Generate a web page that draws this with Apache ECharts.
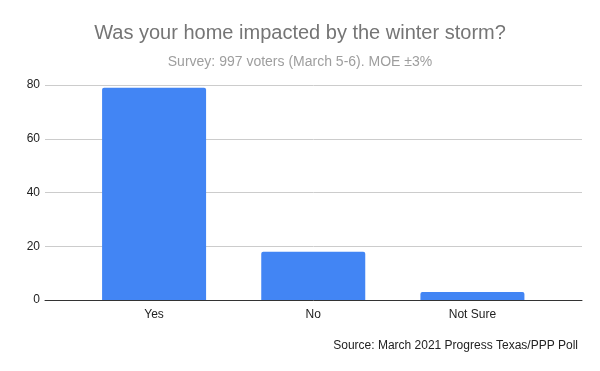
<!DOCTYPE html>
<html><head><meta charset="utf-8">
<script src="https://cdn.jsdelivr.net/npm/echarts@6/dist/echarts.min.js"></script>
<style>html,body{margin:0;padding:0;background:#fff}#c{width:600px;height:371px}</style>
</head><body><div id="c"></div>
<script>
const categories = ["Yes", "No", "Not Sure"];
const values = [79, 18, 3];
const yTicks = [0, 20, 40, 60, 80];
const titleText = "Was your home impacted by the winter storm?";
const subtitleText = "Survey: 997 voters (March 5-6). MOE ±3%";
const sourceText = "Source: March 2021 Progress Texas/PPP Poll";

const font = "Arial, 'Liberation Sans', sans-serif";
const chart = echarts.init(document.getElementById('c'));
chart.setOption({
  animation: false,
  backgroundColor: '#ffffff',
  title: [
    {text: titleText, left: 'center', top: 18, textStyle: {fontFamily: font, fontSize: 20, fontWeight: 'normal', color: '#757575'}},
    {text: subtitleText, left: 'center', top: 50, textStyle: {fontFamily: font, fontSize: 14, fontWeight: 'normal', color: '#9e9e9e'}},
    {text: sourceText, right: 17, top: 335, textStyle: {fontFamily: font, fontSize: 12, fontWeight: 'normal', color: '#222'}}
  ],
  grid: [
    {left: 45, right: 18, top: 85, bottom: 71},
    {left: 74.5, right: 48, top: 85, bottom: 71}
  ],
  xAxis: [
    {gridIndex: 0, type: 'category', data: categories, axisLine: {show: true, lineStyle: {color: '#333', width: 1}}, axisTick: {show: false}, axisLabel: {show: false}},
    {gridIndex: 1, type: 'category', data: categories, axisLine: {show: false}, axisTick: {show: false},
     axisLabel: {fontFamily: font, fontSize: 12, color: '#222', margin: 9}}
  ],
  yAxis: [
    {gridIndex: 0, type: 'value', min: yTicks[0], max: yTicks[yTicks.length-1], interval: 20,
     axisLine: {show: false}, axisTick: {show: false},
     axisLabel: {fontFamily: font, fontSize: 12, color: '#222', margin: 5},
     splitLine: {lineStyle: {color: '#cccccc', width: 1}}},
    {gridIndex: 1, type: 'value', min: yTicks[0], max: yTicks[yTicks.length-1], interval: 20, show: false, splitLine: {show: false}}
  ],
  series: [{
    type: 'bar', xAxisIndex: 1, yAxisIndex: 1, data: values, barWidth: 104,
    itemStyle: {color: '#4285F4', borderRadius: [2, 2, 0, 0]}
  }]
});
</script></body></html>
